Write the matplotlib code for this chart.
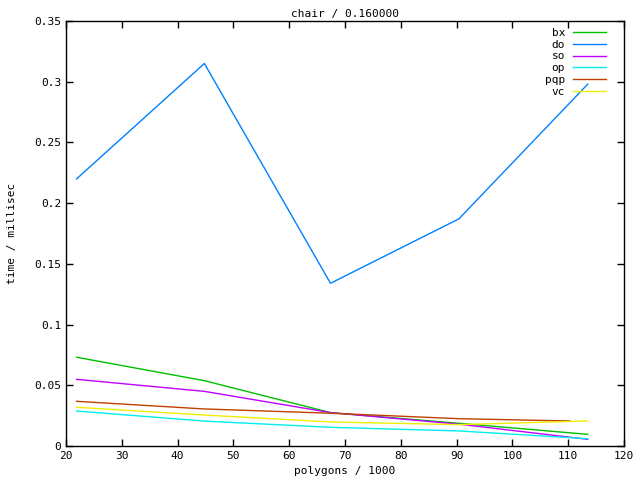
import matplotlib
matplotlib.use("Agg")
import matplotlib.pyplot as plt
from matplotlib.ticker import FuncFormatter, MultipleLocator

x_common = [21.9, 44.8, 67.4, 90.4, 113.5]
x_pqp = [21.9, 44.8, 67.4, 90.4, 110.3]

series_names = ["bx", "do", "so", "op", "pqp", "vc"]
bx = [0.0731, 0.0538, 0.0275, 0.0187, 0.0096]
do = [0.220, 0.315, 0.134, 0.187, 0.298]
so = [0.0549, 0.0450, 0.0275, 0.0180, 0.0055]
op = [0.0288, 0.0205, 0.0154, 0.0124, 0.0060]
pqp = [0.0368, 0.0305, 0.0270, 0.0225, 0.0206]
vc = [0.0319, 0.0255, 0.0198, 0.0176, 0.0206]

colors = ["#00c000", "#0080ff", "#c000ff", "#00eeee", "#c04000", "#eeee00"]

plt.rcParams['font.family'] = ['DejaVu Sans Mono']
fig = plt.figure(figsize=(6.4, 4.8), dpi=100)
ax = fig.add_axes([66/640, 34/480, (624-66)/640, (446-21)/480])

data = [bx, do, so, op, pqp, vc]
for name, ys, c in zip(series_names, data, colors):
    xs = x_pqp if name == "pqp" else x_common
    ax.plot(xs, ys, color=c, lw=1, label=name)

ax.set_xlim(20, 120)
ax.set_ylim(0, 0.35)
ax.xaxis.set_major_locator(MultipleLocator(10))
ax.yaxis.set_major_locator(MultipleLocator(0.05))
ax.yaxis.set_major_formatter(FuncFormatter(lambda v, p: "%g" % round(v, 4)))
ax.tick_params(direction='in', top=True, right=True, labelsize=8, length=5, width=1)
for s in ax.spines.values():
    s.set_linewidth(1)

ax.set_title("chair / 0.160000", fontsize=8, pad=3)
ax.set_xlabel("polygons / 1000", fontsize=8, labelpad=4)
ax.set_ylabel("time / millisec", fontsize=8, labelpad=12)

leg = ax.legend(loc='upper right', bbox_to_anchor=(1 - 11/558, 1.0),
                markerfirst=False, frameon=False, fontsize=8,
                handlelength=3.0, labelspacing=0.17, borderaxespad=0.2, handletextpad=0.7)
for t in leg.get_texts():
    t.set_ha('right')

fig.savefig("out.png", dpi=100)
